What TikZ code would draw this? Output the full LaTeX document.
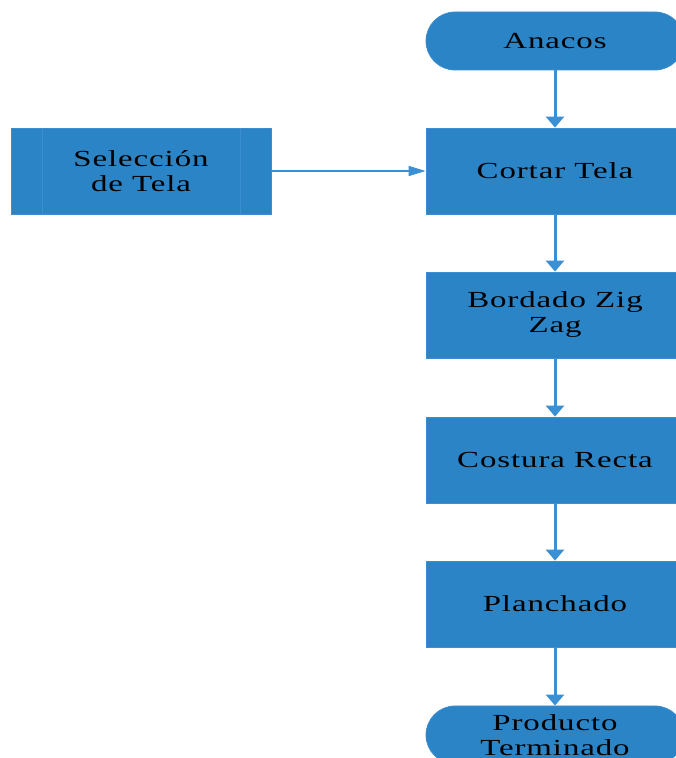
\documentclass[tikz,border=0pt]{standalone}
\usepackage{fontspec}
\setmainfont{Liberation Serif}[FakeStretch=1.43,LetterSpace=4]
\usetikzlibrary{arrows.meta}
\definecolor{boxblue}{HTML}{2A84C6}
\definecolor{edgeblue}{HTML}{3D8ED0}
\definecolor{arrowblue}{HTML}{3B8FD3}
\begin{document}
\begin{tikzpicture}[x=1pt,y=1pt,
  proc/.style={rectangle, fill=boxblue, draw=edgeblue, line width=0.8pt,
    minimum width=258pt, minimum height=86pt, align=center, inner sep=0pt,
    font=\fontsize{23}{25}\selectfont},
  term/.style={proc, minimum height=58pt, rounded corners=29pt},
  flow/.style={draw=arrowblue, line width=3pt,
    -{Triangle[width=18pt,length=11pt]}},
  side/.style={draw=arrowblue, line width=1.5pt,
    -{Triangle[width=10pt,length=17pt]}}]
\useasboundingbox (0,0) rectangle (676,758);
\clip (0,0) rectangle (676,758);

% main column
\node[term] (start) at (555,717) {Anacos};
\node[proc] (cut)   at (555,587) {Cortar Tela};
\node[proc] (zig)   at (555,443) {Bordado Zig\\Zag};
\node[proc] (seam)  at (555,298) {Costura Recta};
\node[proc] (iron)  at (555,154) {Planchado};
\node[term] (done)  at (555,23)  {Producto\\Terminado};

% predefined process on the left
\node[proc, minimum width=260pt] (sel) at (141,587) {Selección\\de Tela};
\draw[edgeblue, line width=0.8pt]
  ([xshift=32pt]sel.north west) -- ([xshift=32pt]sel.south west)
  ([xshift=-31pt]sel.north east) -- ([xshift=-31pt]sel.south east);

% connectors
\draw[flow] (start) -- (cut);
\draw[flow] (cut) -- (zig);
\draw[flow] (zig) -- (seam);
\draw[flow] (seam) -- (iron);
\draw[flow] (iron) -- (done);
\draw[side] (sel) -- (cut);
\end{tikzpicture}
\end{document}
